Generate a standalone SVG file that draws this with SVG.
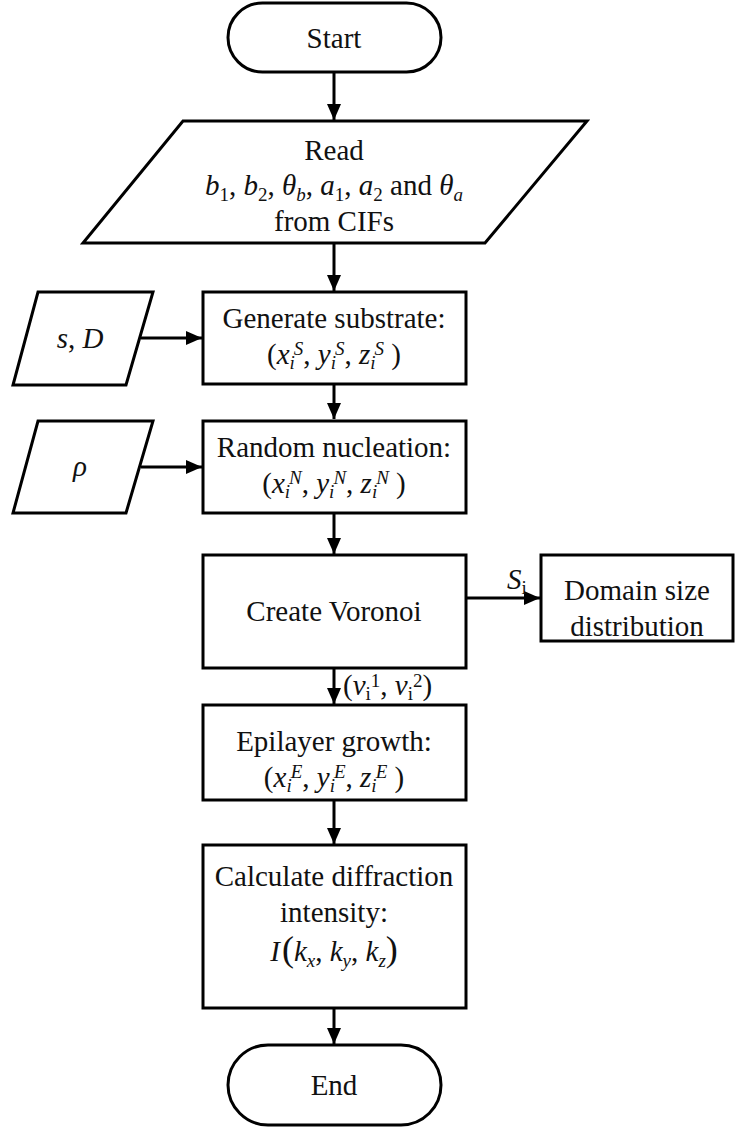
<svg xmlns="http://www.w3.org/2000/svg" width="735" height="1137" viewBox="0 0 735 1137">
  <style>
    .shape { fill: #ffffff; stroke: #000000; stroke-width: 3; }
    .edge { fill: none; stroke: #000000; stroke-width: 3; }
    text { font-family: "Liberation Serif", "Times New Roman", serif; font-size: 29px; fill: #111111; }
    .c { text-anchor: middle; }
    .it { font-style: italic; }
    .s { font-size: 19px; }
  </style>
  <defs>
    <marker id="arrow" viewBox="0 0 16 14" refX="16" refY="7" markerWidth="16" markerHeight="14" markerUnits="userSpaceOnUse" orient="auto">
      <path d="M0,0 L16,7 L0,14 z" fill="#000000"/>
    </marker>
  </defs>

  <!-- connectors -->
  <g id="connectors">
    <line class="edge" x1="334" y1="72" x2="334" y2="120" marker-end="url(#arrow)"/>
    <line class="edge" x1="334" y1="243" x2="334" y2="291" marker-end="url(#arrow)"/>
    <line class="edge" x1="141" y1="338" x2="202" y2="338" marker-end="url(#arrow)"/>
    <line class="edge" x1="334" y1="384" x2="334" y2="419" marker-end="url(#arrow)"/>
    <line class="edge" x1="141" y1="467" x2="202" y2="467" marker-end="url(#arrow)"/>
    <line class="edge" x1="334" y1="513" x2="334" y2="554" marker-end="url(#arrow)"/>
    <line class="edge" x1="466" y1="598" x2="540" y2="598" marker-end="url(#arrow)"/>
    <line class="edge" x1="334" y1="668" x2="334" y2="704" marker-end="url(#arrow)"/>
    <line class="edge" x1="334" y1="800" x2="334" y2="844" marker-end="url(#arrow)"/>
    <line class="edge" x1="334" y1="1008" x2="334" y2="1044" marker-end="url(#arrow)"/>
    <!-- edge labels -->
    <text x="507" y="589"><tspan class="it">S</tspan><tspan class="s" dy="5">i</tspan></text>
    <text x="343" y="695">(<tspan class="it">v</tspan><tspan class="s" dy="5">i</tspan><tspan class="s" dy="-13">1</tspan><tspan dy="8">, </tspan><tspan class="it">v</tspan><tspan class="s" dy="5">i</tspan><tspan class="s" dy="-13">2</tspan><tspan dy="8">)</tspan></text>
  </g>

  <!-- Start -->
  <g id="start">
    <rect class="shape" x="228" y="3" width="213" height="69" rx="34.5"/>
    <text class="c" x="334" y="48">Start</text>
  </g>

  <!-- Read lattice parameters -->
  <g id="read">
    <polygon class="shape" points="183,121 587,121 485,243 83,243"/>
    <text class="c" x="334" y="160">Read</text>
    <text class="c" x="334" y="195"><tspan class="it">b</tspan><tspan class="s" dy="6">1</tspan><tspan dy="-6">, </tspan><tspan class="it">b</tspan><tspan class="s" dy="6">2</tspan><tspan dy="-6">, </tspan><tspan class="it">θ</tspan><tspan class="s it" dy="6">b</tspan><tspan dy="-6">, </tspan><tspan class="it">a</tspan><tspan class="s" dy="6">1</tspan><tspan dy="-6">, </tspan><tspan class="it">a</tspan><tspan class="s" dy="6">2</tspan><tspan dy="-6"> and </tspan><tspan class="it">θ</tspan><tspan class="s it" dy="6">a</tspan></text>
    <text class="c" x="334" y="231">from CIFs</text>
  </g>

  <!-- Input s, D -->
  <g id="input-sD">
    <polygon class="shape" points="38,292 153,292 126,385 13,385"/>
    <text class="c" x="80" y="348"><tspan class="it">s</tspan>, <tspan class="it">D</tspan></text>
  </g>

  <!-- Generate substrate -->
  <g id="substrate">
    <rect class="shape" x="203" y="292" width="263" height="92"/>
    <text class="c" x="334" y="328">Generate substrate:</text>
    <text class="c" x="334" y="364">(<tspan class="it">x</tspan><tspan class="s it" dy="5">i</tspan><tspan class="s it" dx="-1" dy="-14">S</tspan><tspan dy="9">, </tspan><tspan class="it">y</tspan><tspan class="s it" dy="5">i</tspan><tspan class="s it" dx="-1" dy="-14">S</tspan><tspan dy="9">, </tspan><tspan class="it">z</tspan><tspan class="s it" dy="5">i</tspan><tspan class="s it" dx="-1" dy="-14">S</tspan><tspan dy="9"> )</tspan></text>
  </g>

  <!-- Input rho -->
  <g id="input-rho">
    <polygon class="shape" points="38,421 153,421 126,513 13,513"/>
    <text class="c it" x="80" y="476">ρ</text>
  </g>

  <!-- Random nucleation -->
  <g id="nucleation">
    <rect class="shape" x="203" y="421" width="263" height="92"/>
    <text class="c" x="334" y="457">Random nucleation:</text>
    <text class="c" x="334" y="493">(<tspan class="it">x</tspan><tspan class="s it" dy="5">i</tspan><tspan class="s it" dx="-1" dy="-14">N</tspan><tspan dy="9">, </tspan><tspan class="it">y</tspan><tspan class="s it" dy="5">i</tspan><tspan class="s it" dx="-1" dy="-14">N</tspan><tspan dy="9">, </tspan><tspan class="it">z</tspan><tspan class="s it" dy="5">i</tspan><tspan class="s it" dx="-1" dy="-14">N</tspan><tspan dy="9"> )</tspan></text>
  </g>

  <!-- Create Voronoi -->
  <g id="voronoi">
    <rect class="shape" x="203" y="555" width="263" height="113"/>
    <text class="c" x="334" y="621">Create Voronoi</text>
  </g>

  <!-- Domain size distribution -->
  <g id="domain-size">
    <rect class="shape" x="541" y="555" width="192" height="86"/>
    <text class="c" x="637" y="600">Domain size</text>
    <text class="c" x="637" y="636">distribution</text>
  </g>

  <!-- Epilayer growth -->
  <g id="epilayer">
    <rect class="shape" x="203" y="705" width="263" height="95"/>
    <text class="c" x="334" y="751">Epilayer growth:</text>
    <text class="c" x="334" y="787">(<tspan class="it">x</tspan><tspan class="s it" dy="5">i</tspan><tspan class="s it" dx="-1" dy="-14">E</tspan><tspan dy="9">, </tspan><tspan class="it">y</tspan><tspan class="s it" dy="5">i</tspan><tspan class="s it" dx="-1" dy="-14">E</tspan><tspan dy="9">, </tspan><tspan class="it">z</tspan><tspan class="s it" dy="5">i</tspan><tspan class="s it" dx="-1" dy="-14">E</tspan><tspan dy="9"> )</tspan></text>
  </g>

  <!-- Calculate diffraction intensity -->
  <g id="diffraction">
    <rect class="shape" x="203" y="845" width="263" height="163"/>
    <text class="c" x="334" y="886">Calculate diffraction</text>
    <text class="c" x="334" y="922">intensity:</text>
    <text class="c" x="334" y="961" font-size="30"><tspan class="it">I</tspan><tspan font-size="36" dx="2">(</tspan><tspan class="it">k</tspan><tspan class="s it" dy="6">x</tspan><tspan dy="-6">, </tspan><tspan class="it">k</tspan><tspan class="s it" dy="6">y</tspan><tspan dy="-6">, </tspan><tspan class="it">k</tspan><tspan class="s it" dy="6">z</tspan><tspan dy="-6" font-size="36">)</tspan></text>
  </g>

  <!-- End -->
  <g id="end">
    <rect class="shape" x="228" y="1045" width="213" height="80" rx="40"/>
    <text class="c" x="334" y="1095">End</text>
  </g>
</svg>
